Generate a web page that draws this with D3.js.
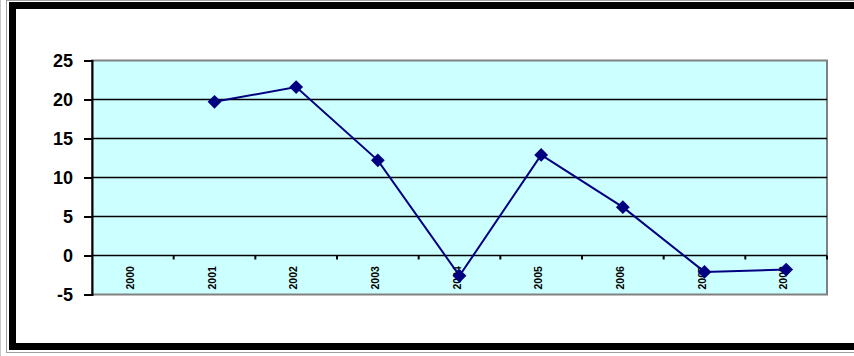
<!DOCTYPE html>
<html>
<head>
<meta charset="utf-8">
<script src="https://cdn.jsdelivr.net/npm/d3@7"></script>
<style>
  body { margin: 0; background: #fff; overflow: hidden; }
  svg { display: block; }
</style>
</head>
<body>
<div class="chart"></div>
<script>
const years = ["2000", "2001", "2002", "2003", "2004", "2005", "2006", "2007", "2008"];
const values = [null, 19.7, 21.6, 12.2, -2.6, 12.9, 6.2, -2.1, -1.8];
const yTicks = [-5, 0, 5, 10, 15, 20, 25];

const W = 854, H = 356;
const plot = { left: 92, right: 827, top: 60.5, bottom: 294.5 };

const svg = d3.select(".chart")
    .append("svg")
    .attr("width", W)
    .attr("height", H);

// outer frame
svg.append("rect")
    .attr("x", 6.5).attr("y", 0.5)
    .attr("width", W + 20).attr("height", 352)
    .attr("fill", "none")
    .attr("stroke", "#a0a0a0")
    .attr("stroke-width", 1);
svg.append("line")
    .attr("x1", 0.5).attr("x2", 0.5).attr("y1", 0).attr("y2", H)
    .attr("stroke", "#c8c8c8");
svg.append("rect")
    .attr("x", 12.5).attr("y", 5.5)
    .attr("width", W + 40).attr("height", 341)
    .attr("fill", "#fff")
    .attr("stroke", "#000")
    .attr("stroke-width", 7);

const x = d3.scaleBand().domain(years).range([plot.left, plot.right]).padding(0);
const y = d3.scaleLinear().domain([-5, 25]).range([plot.bottom, plot.top]);

// plot area
svg.append("rect")
    .attr("x", plot.left).attr("y", plot.top)
    .attr("width", plot.right - plot.left)
    .attr("height", plot.bottom - plot.top)
    .attr("fill", "#ccffff")
    .attr("stroke", "#808080")
    .attr("stroke-width", 2);

// gridlines
svg.append("g")
    .selectAll("line")
    .data(yTicks.filter(d => d > -5 && d < 25))
    .enter()
    .append("line")
    .attr("x1", plot.left).attr("x2", plot.right)
    .attr("y1", d => y(d)).attr("y2", d => y(d))
    .attr("stroke", "#000")
    .attr("stroke-width", 1.6);

// y axis
const yAxis = d3.axisLeft(y).tickValues(yTicks).tickSize(8).tickPadding(11).tickFormat(d => String(d));
const gy = svg.append("g")
    .attr("transform", "translate(" + plot.left + ",0)")
    .call(yAxis);
gy.select(".domain").attr("stroke", "#000").attr("stroke-width", 2);
gy.selectAll(".tick line").attr("stroke", "#000").attr("stroke-width", 2);
gy.selectAll("text")
    .attr("fill", "#000")
    .style("font-family", "Liberation Sans, Arial, sans-serif")
    .style("font-weight", "bold")
    .style("font-size", "18px");

// x axis at zero: boundary ticks
const zeroY = y(0);
const bounds = years.map(d => x(d) + x.bandwidth());
svg.append("g")
    .selectAll("line")
    .data(bounds)
    .enter()
    .append("line")
    .attr("x1", d => d).attr("x2", d => d)
    .attr("y1", zeroY).attr("y2", zeroY + 4)
    .attr("stroke", "#000")
    .attr("stroke-width", 2);

svg.append("g")
    .selectAll("text")
    .data(years)
    .enter()
    .append("text")
    .attr("transform", d => "translate(" + (x(d) + x.bandwidth() / 2 + 1) + "," + (zeroY + 34) + ") rotate(-90)")
    .attr("text-anchor", "start")
    .style("font-family", "Liberation Sans, Arial, sans-serif")
    .style("font-weight", "bold")
    .style("font-size", "10.5px")
    .attr("fill", "#000")
    .text(d => d);

// series
const pts = years.map((d, i) => ({ year: d, v: values[i] })).filter(d => d.v !== null);
const line = d3.line()
    .x(d => x(d.year) + x.bandwidth() / 2)
    .y(d => y(d.v));

svg.append("path")
    .datum(pts)
    .attr("d", line)
    .attr("fill", "none")
    .attr("stroke", "#000080")
    .attr("stroke-width", 2);

svg.append("g")
    .selectAll("path")
    .data(pts)
    .enter()
    .append("path")
    .attr("d", d3.symbol(d3.symbolSquare, 95))
    .attr("transform", d => "translate(" + (x(d.year) + x.bandwidth() / 2) + "," + y(d.v) + ") rotate(45)")
    .attr("fill", "#000080");
</script>
</body>
</html>
